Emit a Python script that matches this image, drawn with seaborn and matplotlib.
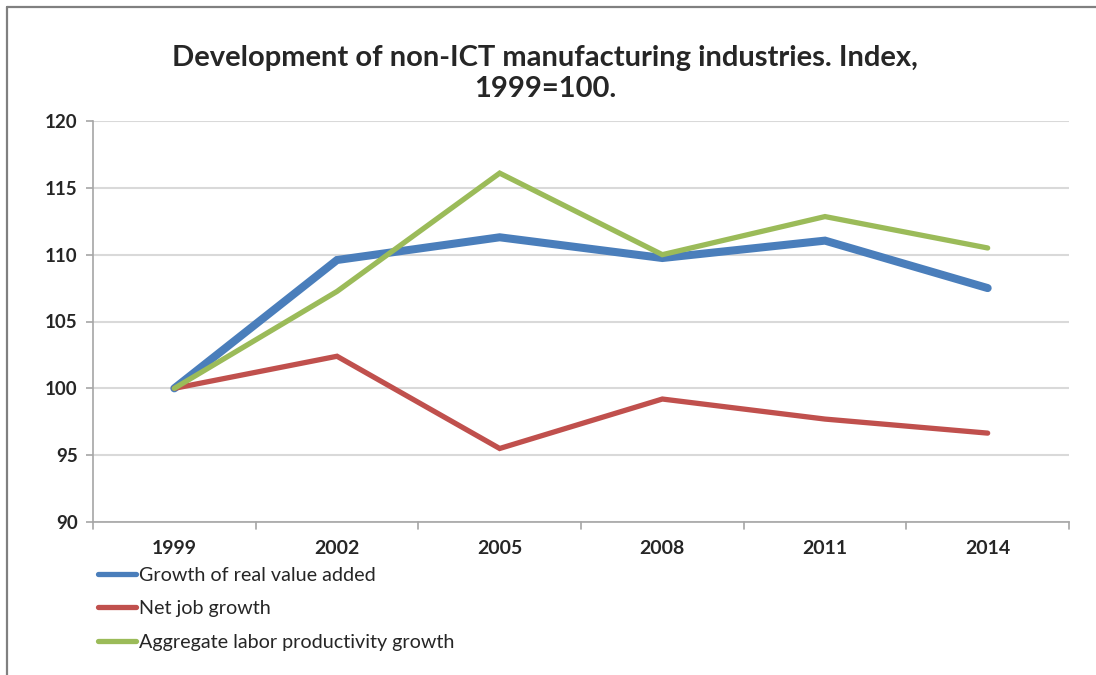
import matplotlib
matplotlib.use("Agg")
import matplotlib.pyplot as plt
from matplotlib.lines import Line2D
import seaborn as sns
import pandas as pd

# Index values, 1999 = 100
years = ["1999", "2002", "2005", "2008", "2011", "2014"]
real_value_added = [100.0, 109.6, 111.3, 109.75, 111.05, 107.5]
net_job_growth = [100.0, 102.4, 95.5, 99.2, 97.7, 96.65]
labor_productivity = [100.0, 107.25, 116.1, 110.0, 112.85, 110.5]

series_names = [
    "Growth of real value added",
    "Net job growth",
    "Aggregate labor productivity growth",
]
series_values = [real_value_added, net_job_growth, labor_productivity]
colors = ["#4A7EBB", "#C0504D", "#9BBB59"]
widths = [5.8, 3.8, 3.8]

y_ticks = [90, 95, 100, 105, 110, 115, 120]
title = "Development of non-ICT manufacturing industries. Index,\n1999=100."

rows = []
for name, vals in zip(series_names, series_values):
    for i, (yr, v) in enumerate(zip(years, vals)):
        rows.append({"pos": i, "year": yr, "value": v, "series": name})
df = pd.DataFrame(rows)

sns.set_theme(style="white")
plt.rcParams["font.family"] = ["Lato", "DejaVu Sans"]

fig = plt.figure(figsize=(10.96, 6.75), dpi=100)
ax = fig.add_axes([93 / 1096, 1 - 522 / 675, (1069 - 93) / 1096, (522 - 121) / 675])

sns.lineplot(
    data=df, x="pos", y="value", hue="series", hue_order=series_names,
    palette=colors, ax=ax, legend=False, sort=False,
)
for line, lw in zip(ax.get_lines(), widths):
    line.set_linewidth(lw)
    line.set_solid_capstyle("round")
    line.set_solid_joinstyle("miter")

ax.set_xlim(-0.5, len(years) - 0.5)
ax.set_ylim(90, 120)
ax.set_yticks(y_ticks)
ax.set_yticklabels([str(t) for t in y_ticks], fontsize=13.5, fontweight="bold")
ax.set_xticks(range(len(years)))
ax.set_xticklabels(years, fontsize=14, fontweight="bold")
ax.tick_params(axis="x", length=0, pad=13)
ax.tick_params(axis="y", length=5, width=1.2, color="#A6A6A6", direction="out", pad=6, left=True)
# category boundary ticks on the x axis
for b in range(len(years) + 1):
    ax.plot([b - 0.5, b - 0.5], [0, -0.018], transform=ax.get_xaxis_transform(),
            color="#A6A6A6", lw=1.2, clip_on=False)
ax.set_xlabel("")
ax.set_ylabel("")
ax.yaxis.grid(True, color="#D9D9D9", lw=1.5)
ax.set_axisbelow(True)
for side in ["top", "right"]:
    ax.spines[side].set_visible(False)
for side in ["left", "bottom"]:
    ax.spines[side].set_color("#A6A6A6")
    ax.spines[side].set_linewidth(1.2)

fig.text(545 / 1096, 1 - 73.5 / 675, title, ha="center", va="center",
         fontsize=21, fontweight="bold", linespacing=1.28)

handles = [Line2D([], [], color=c, lw=3.8, solid_capstyle="round") for c in colors]
fig.legend(handles, series_names, loc="upper left",
           bbox_to_anchor=(98 / 1096, 1 - 567 / 675), frameon=False,
           fontsize=14.2, handlelength=1.95, handletextpad=0.12, labelspacing=0.83,
           borderaxespad=0, borderpad=0)

# outer frame along top and left edges
fig.add_artist(Line2D([7 / 1096, 1], [1 - 7 / 675, 1 - 7 / 675], transform=fig.transFigure,
                      color="#808080", lw=1.6))
fig.add_artist(Line2D([7 / 1096, 7 / 1096], [0, 1 - 7 / 675], transform=fig.transFigure,
                      color="#808080", lw=1.6))

fig.savefig("out.png", dpi=100, facecolor="white")
